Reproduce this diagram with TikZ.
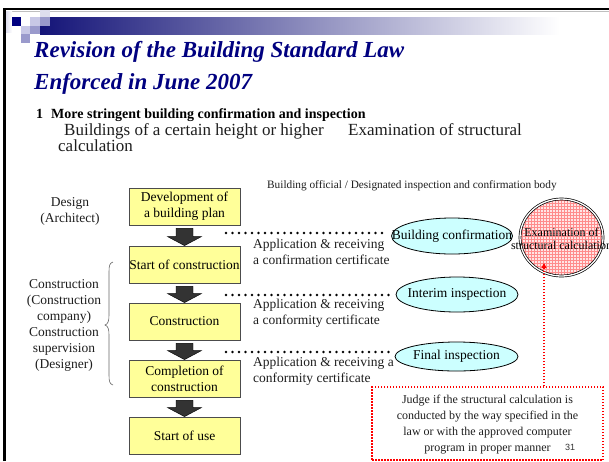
\documentclass[tikz,border=0pt]{standalone}
\usepackage{fontspec}
\setmainfont{Liberation Serif}
\newfontfamily\slidesans{Liberation Sans}
\usetikzlibrary{arrows.meta,patterns,shapes.geometric,calc}
\definecolor{navy}{RGB}{0,0,128}
\definecolor{barnavy}{RGB}{20,20,120}
\definecolor{lilac}{RGB}{200,200,230}
\definecolor{lilacmid}{RGB}{154,154,204}
\definecolor{lilacpale}{RGB}{222,222,238}
\definecolor{boxyellow}{RGB}{255,255,153}
\definecolor{ellcyan}{RGB}{204,255,255}
\definecolor{arrowgray}{RGB}{51,51,51}
\definecolor{txtgray}{RGB}{30,30,30}
\tikzset{
  stagebox/.style={draw=black!70, line width=0.8pt, fill=boxyellow, minimum width=111pt, minimum height=37pt, inner sep=0pt, align=center, font=\fontsize{13.5}{16}\selectfont},
  checkell/.style={ellipse, draw=black, line width=0.8pt, fill=ellcyan, inner sep=0pt},
  dotline/.style={line width=2.8pt, dash pattern=on 0pt off 6.5pt, line cap=round, black},
  blkarrow/.style={fill=arrowgray, draw=black, line width=0.4pt},
  lbl/.style={inner sep=0pt, font=\fontsize{13.5}{16}\selectfont, text=txtgray},
  redline/.style={red, line width=1.5pt, dash pattern=on 1.5pt off 1.5pt},
}
\newcommand\blockarrow[2]{%
  \filldraw[blkarrow] ($(#1.south)+(-8.5,3)$) -- ($(#1.south)+(8.5,3)$) -- ($(#2.north)+(8.5,-9)$) -- ($(#2.north)+(17,-9)$) -- (#2.north) -- ($(#2.north)+(-17,-9)$) -- ($(#2.north)+(-8.5,-9)$) -- cycle;}
\begin{document}
\begin{tikzpicture}[x=1pt,y=-1pt]
\useasboundingbox (0,0) rectangle (609,461);
% slide frame
\fill[white] (0,0) rectangle (609,461);
\draw[black!25, line width=1pt] (6,11) -- (609,11);
\draw[black, line width=2.5pt] (4.5,461) -- (4.5,9) -- (609,9);
% header decoration
\shade[left color=lilacpale, right color=white] (6,11) rectangle (12,32);
\shade[left color=barnavy, right color=white] (40,17) rectangle (560,34);
\fill[navy] (12,17) rectangle (21,26);
\fill[lilac] (30,17) rectangle (40,26);
\fill[lilacpale] (40,10) rectangle (50,17);
\fill[lilacmid] (40,17) rectangle (50,26);
\fill[lilac] (21,26) rectangle (30,34);
\fill[lilacmid] (30,26) rectangle (40,34);
\fill[lilacmid] (21,34) rectangle (30,43);
% title
\node[anchor=base west, inner sep=0pt, text=navy, font=\fontsize{23}{31}\selectfont\bfseries\itshape] (t1) at (34,57) {Revision of the Building Standard Law};
\node[anchor=base west, inner sep=0pt, text=navy, font=\fontsize{23}{31}\selectfont\bfseries\itshape] (t2) at (34,89) {Enforced in June 2007};
\node[anchor=base west, inner sep=0pt, font=\fontsize{14}{16}\selectfont\bfseries] (h1) at (36,118) {1\hspace{8pt}More stringent building confirmation and inspection};
\node[anchor=base west, inner sep=0pt, font=\fontsize{17}{17}\selectfont, text=txtgray] (s1) at (64,135) {Buildings of a certain height or higher};
\node[anchor=base west, inner sep=0pt, font=\fontsize{17}{17}\selectfont, text=txtgray] (s2) at (348,135) {Examination of structural};
\node[anchor=base west, inner sep=0pt, font=\fontsize{17}{17}\selectfont, text=txtgray] (s3) at (58,151) {calculation};
\node[anchor=base west, inner sep=0pt, font=\fontsize{11.3}{13}\selectfont, text=txtgray] (bo) at (267,188) {Building official / Designated inspection and confirmation body};
% left labels (base = last line)
\node[lbl, align=center, anchor=base] (des) at (70,222) {Design\\(Architect)};
\node[lbl, align=center, anchor=base] (con) at (64,368) {Construction\\(Construction\\company)\\Construction\\supervision\\(Designer)};
\draw[black!60, line width=0.6pt] (113,262) .. controls (109.5,263) and (109,266) .. (109,272) -- (109,315) .. controls (109,321) and (108,324) .. (105,325) .. controls (108,326) and (109,329) .. (109,335) -- (109,375) .. controls (109,381) and (109.5,384) .. (113,385);
% stages
\node[stagebox] (b1) at (184.5,206.5) {Development of\\a building plan};
\node[stagebox] (b2) at (184.5,264.5) {Start of construction};
\node[stagebox] (b3) at (184.5,321.5) {Construction};
\node[stagebox] (b4) at (184.5,378.5) {Completion of\\construction};
\node[stagebox] (b5) at (184.5,435.5) {Start of use};
\blockarrow{b1}{b2}
\blockarrow{b2}{b3}
\blockarrow{b3}{b4}
\blockarrow{b4}{b5}
% checks
\node[checkell, minimum width=121pt, minimum height=36pt] (eb) at (452,236) {};
\node[lbl, text=black] (ebt) at (eb.center) {Building confirmation};
\node[checkell, minimum width=122pt, minimum height=35pt] (ei) at (457,294.5) {};
\node[lbl, text=black] (eit) at (ei.center) {Interim inspection};
\node[checkell, minimum width=123pt, minimum height=29pt] (ef) at (456.5,356.5) {};
\node[lbl, text=black] (eft) at (ef.center) {Final inspection};
\coordinate (d1) at (226,233);
\coordinate (d2) at (226,295);
\coordinate (d3) at (226,352);
\draw[dotline] (d1) -- ($(d1 -| eb.west)+(-6,0)$);
\draw[dotline] (d2) -- ($(d2 -| ei.west)+(-4,0)$);
\draw[dotline] (d3) -- ($(d3 -| ef.west)+(-4,0)$);
\node[lbl, align=left, anchor=base west] (a1) at (253,264) {Application \& receiving\\a confirmation certificate};
\node[lbl, align=left, anchor=base west] (a2) at (253,324) {Application \& receiving\\a conformity certificate};
\node[lbl, align=left, anchor=base west] (a3) at (253,382) {Application \& receiving a\\conformity certificate};
% structural calculation examination
\node[ellipse, minimum width=83pt, minimum height=77pt, inner sep=0pt, draw=black, line width=0.7pt, double=white, double distance=1.3pt, preaction={fill=red!10}, pattern=grid, pattern color=red!45] (ex) at (561.5,237.5) {};
\node[inner sep=0pt, align=center, anchor=base, font=\fontsize{12}{13}\selectfont, text=black] (ext) at (561.5,249) {Examination of\\structural calculation};
% judgement box
\node[redline, minimum width=231pt, minimum height=73pt, inner sep=0pt, draw] (jb) at (487.5,423.5) {};
\node[inner sep=0pt, align=center, anchor=base, text=txtgray, font=\fontsize{12}{15.8}\selectfont] (jbt) at (487.5,451) {Judge if the structural calculation is\\conducted by the way specified in the\\law or with the approved computer\\program in proper manner};
\node[anchor=base west, inner sep=0pt, font=\slidesans\fontsize{9}{10}\selectfont, text=black!80] (pg) at (565,450) {31};
\coordinate (rt) at (544,263);
\draw[redline, -{Triangle[length=5pt,width=5pt]}] (jb.north -| rt) -- (rt);
\end{tikzpicture}
\end{document}
